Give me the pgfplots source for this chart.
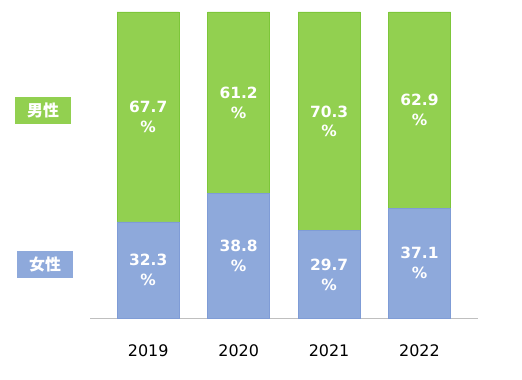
\documentclass[border=0pt]{standalone}
\usepackage{pgfplots}
\pgfplotsset{compat=1.18}
\usepackage{fontspec}
\setmainfont{DejaVu Sans}
\newfontfamily\cjk{Noto Sans CJK JP}
\definecolor{mgreen}{HTML}{92D050}
\definecolor{mgreenedge}{HTML}{7DC63A}
\definecolor{fblue}{HTML}{8EA9DB}
\definecolor{fblueedge}{HTML}{7F9CD6}
\definecolor{axgray}{HTML}{BFBFBF}
\begin{document}
\begin{tikzpicture}
\path[use as bounding box] (0,0) rectangle (522bp,380bp);
\begin{axis}[
  at={(90bp,61.7bp)}, anchor=south west,
  scale only axis, width=388bp, height=306.3bp,
  xmin=-0.644, xmax=3.647, ymin=0, ymax=100,
  axis x line*=bottom, axis y line=none,
  x axis line style={draw=axgray, line width=0.9bp, -},
  xtick={0,1,2,3}, xticklabels={2019,2020,2021,2022},
  major tick length=0pt,
  xticklabel style={font=\fontsize{16}{18}\selectfont, yshift=-23bp},
  ytick=\empty,
  ybar stacked, bar width=62bp,
  clip=false,
]
\addplot[fill=fblue, draw=fblueedge, line width=0.6bp] coordinates {(0,31.5) (1,40.7) (2,28.6) (3,35.9)};
\addplot[fill=mgreen, draw=mgreenedge, line width=0.6bp] coordinates {(0,68.5) (1,59.3) (2,71.4) (3,64.1)};
\end{axis}
\begin{axis}[
  at={(90bp,61.7bp)}, anchor=south west,
  scale only axis, width=388bp, height=306.3bp,
  xmin=-0.644, xmax=3.647, ymin=0, ymax=100,
  hide axis, clip=false,
  /pgf/number format/assume math mode=true,
  nodes near coords={\pgfmathprintnumber[fixed,precision=1,fixed zerofill,assume math mode=true]{\pgfplotspointmeta}\\\%},
  every node near coord/.append style={anchor=center, align=center, text=white, font=\fontsize{15.5}{20}\selectfont\bfseries},
  point meta=explicit,
]
\addplot[only marks, mark=none, draw=none] coordinates {(0,15.75) [32.3] (1,20.35) [38.8] (2,14.3) [29.7] (3,17.95) [37.1]};
\addplot[only marks, mark=none, draw=none] coordinates {(0,65.75) [67.7] (1,70.35) [61.2] (2,64.3) [70.3] (3,67.95) [62.9]};
\end{axis}
\node[fill=mgreen, text=white, minimum width=56bp, minimum height=27bp, inner sep=0pt, font=\cjk\fontsize{16}{18}\selectfont\bfseries] at (43bp,269.5bp) {男性};
\node[fill=fblue, text=white, minimum width=56bp, minimum height=27bp, inner sep=0pt, font=\cjk\fontsize{16}{18}\selectfont\bfseries] at (45bp,115.5bp) {女性};
\end{tikzpicture}
\end{document}
